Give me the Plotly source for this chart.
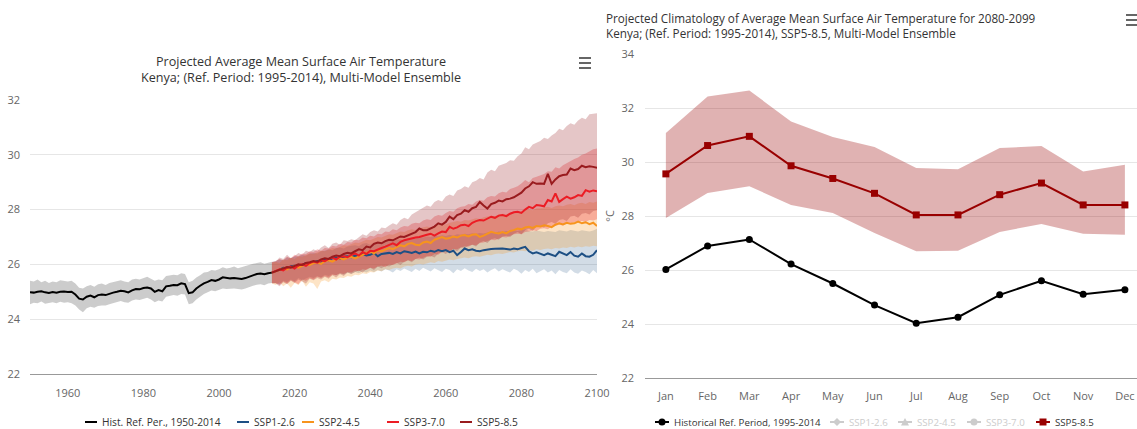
import plotly.graph_objects as go

# ---------------- Left chart data ----------------
hist_years = list(range(1950, 2015))
hist_mean = [24.98, 24.97, 25.00, 25.02, 24.98, 24.96, 24.99, 24.97, 25.00, 25.01,
             24.99, 25.00, 24.90, 24.75, 24.72, 24.82, 24.86, 24.80, 24.88, 24.90,
             24.88, 24.93, 24.97, 25.00, 25.04, 25.02, 24.98, 25.05, 25.10, 25.09,
             25.14, 25.16, 25.12, 25.00, 25.06, 25.02, 25.20, 25.22, 25.25, 25.24,
             25.31, 25.28, 24.95, 24.98, 25.12, 25.22, 25.31, 25.36, 25.43, 25.40,
             25.45, 25.53, 25.50, 25.49, 25.50, 25.48, 25.47, 25.50, 25.55, 25.60,
             25.65, 25.67, 25.64, 25.68, 25.70]
hist_upper = [25.40, 25.38, 25.45, 25.35, 25.40, 25.32, 25.38, 25.35, 25.42, 25.40,
              25.38, 25.40, 25.30, 25.15, 25.12, 25.20, 25.25, 25.18, 25.28, 25.30,
              25.25, 25.32, 25.35, 25.40, 25.42, 25.38, 25.35, 25.45, 25.48, 25.45,
              25.50, 25.55, 25.48, 25.40, 25.45, 25.42, 25.58, 25.60, 25.62, 25.60,
              25.68, 25.65, 25.35, 25.40, 25.52, 25.60, 25.70, 25.72, 25.80, 25.78,
              25.82, 25.90, 25.85, 25.88, 25.92, 25.86, 25.90, 25.95, 26.00, 26.02,
              26.05, 26.08, 26.02, 26.06, 26.10]
hist_lower = [24.55, 24.60, 24.58, 24.65, 24.56, 24.60, 24.62, 24.58, 24.64, 24.60,
              24.62, 24.58, 24.50, 24.35, 24.25, 24.40, 24.45, 24.42, 24.48, 24.50,
              24.50, 24.55, 24.58, 24.62, 24.66, 24.62, 24.60, 24.68, 24.72, 24.70,
              24.75, 24.78, 24.72, 24.62, 24.68, 24.65, 24.82, 24.85, 24.88, 24.86,
              24.92, 24.90, 24.55, 24.58, 24.72, 24.82, 24.92, 24.98, 25.05, 25.02,
              25.06, 25.12, 25.10, 25.11, 25.12, 25.10, 25.08, 25.12, 25.18, 25.22,
              25.26, 25.28, 25.24, 25.30, 25.32]

# projections start where the historical series ends (2014) and run to 2100
proj_years = list(range(2014, 2101))

ssp126_mean = [25.70,
               25.75, 25.80, 25.88, 25.85, 25.93, 25.95, 25.92, 26.00, 26.05, 26.02,
               26.08, 26.12, 26.10, 26.18, 26.15, 26.22, 26.25, 26.20, 26.28, 26.30,
               26.26, 26.32, 26.30, 26.38, 26.33, 26.35, 26.42, 26.30, 26.38, 26.40,
               26.42, 26.38, 26.45, 26.40, 26.48, 26.45, 26.42, 26.47, 26.40, 26.46,
               26.44, 26.50, 26.46, 26.52, 26.48, 26.52, 26.45, 26.50, 26.34, 26.45,
               26.58, 26.52, 26.55, 26.50, 26.48, 26.52, 26.55, 26.56, 26.57, 26.58,
               26.58, 26.56, 26.54, 26.58, 26.55, 26.60, 26.64, 26.48, 26.40, 26.44,
               26.38, 26.34, 26.40, 26.36, 26.30, 26.46, 26.40, 26.34, 26.45, 26.32,
               26.28, 26.40, 26.30, 26.28, 26.35, 26.52]
ssp126_upper = [26.08,
                26.12, 26.18, 26.15, 26.25, 26.22, 26.30, 26.28, 26.35, 26.32, 26.40,
                26.42, 26.40, 26.48, 26.50, 26.55, 26.52, 26.60, 26.62, 26.58, 26.65,
                26.68, 26.70, 26.66, 26.75, 26.78, 26.72, 26.80, 26.82, 26.78, 26.85,
                26.88, 26.85, 26.90, 26.92, 26.88, 26.95, 26.98, 26.94, 27.00, 26.98,
                27.02, 27.00, 27.05, 27.03, 27.06, 27.04, 27.08, 27.05, 27.10, 27.08,
                27.12, 27.10, 27.14, 27.12, 27.15, 27.13, 27.16, 27.18, 27.15, 27.20,
                27.18, 27.22, 27.20, 27.24, 27.22, 27.25, 27.28, 27.22, 27.20, 27.24,
                27.20, 27.18, 27.22, 27.20, 27.18, 27.25, 27.22, 27.20, 27.26, 27.22,
                27.20, 27.25, 27.22, 27.20, 27.24, 27.30]
ssp126_lower = [25.32,
                25.32, 25.28, 25.40, 25.35, 25.45, 25.38, 25.50, 25.42, 25.48, 25.55,
                25.50, 25.58, 25.52, 25.62, 25.58, 25.65, 25.60, 25.68, 25.62, 25.70,
                25.66, 25.72, 25.68, 25.75, 25.70, 25.78, 25.72, 25.80, 25.74, 25.82,
                25.78, 25.70, 25.82, 25.76, 25.85, 25.78, 25.72, 25.84, 25.76, 25.88,
                25.80, 25.74, 25.86, 25.78, 25.72, 25.84, 25.80, 25.68, 25.82, 25.76,
                25.86, 25.78, 25.72, 25.84, 25.76, 25.82, 25.70, 25.80, 25.86, 25.74,
                25.82, 25.76, 25.70, 25.84, 25.78, 25.66, 25.80, 25.72, 25.84, 25.68,
                25.76, 25.82, 25.70, 25.78, 25.64, 25.80, 25.72, 25.68, 25.82, 25.70,
                25.66, 25.78, 25.72, 25.64, 25.80, 25.68]

ssp245_mean = [25.70,
               25.75, 25.78, 25.85, 25.82, 25.90, 25.93, 25.88, 25.95, 26.00, 25.98,
               26.05, 26.08, 26.02, 26.12, 26.15, 26.10, 26.18, 26.22, 26.18, 26.25,
               26.28, 26.22, 26.30, 26.35, 26.42, 26.48, 26.40, 26.52, 26.47, 26.55,
               26.60, 26.56, 26.64, 26.70, 26.66, 26.75, 26.78, 26.72, 26.70, 26.80,
               26.83, 26.78, 26.90, 26.95, 27.00, 26.94, 26.96, 27.02, 26.98, 27.05,
               27.07, 27.02, 27.08, 27.10, 27.00, 27.05, 27.12, 27.19, 27.15, 27.13,
               27.18, 27.13, 27.22, 27.25, 27.31, 27.28, 27.35, 27.37, 27.33, 27.40,
               27.38, 27.43, 27.40, 27.36, 27.45, 27.50, 27.46, 27.52, 27.48, 27.50,
               27.56, 27.50, 27.54, 27.47, 27.52, 27.40]
ssp245_upper = [26.06,
                26.10, 26.05, 26.18, 26.15, 26.25, 26.20, 26.30, 26.28, 26.35, 26.40,
                26.38, 26.45, 26.50, 26.48, 26.55, 26.60, 26.58, 26.65, 26.70, 26.68,
                26.75, 26.80, 26.78, 26.85, 26.90, 26.88, 26.95, 27.00, 26.98, 27.05,
                27.10, 27.08, 27.15, 27.20, 27.18, 27.25, 27.28, 27.26, 27.32, 27.35,
                27.38, 27.36, 27.42, 27.45, 27.48, 27.46, 27.52, 27.55, 27.58, 27.56,
                27.62, 27.60, 27.65, 27.68, 27.66, 27.72, 27.75, 27.78, 27.76, 27.82,
                27.85, 27.83, 27.88, 27.92, 27.90, 27.95, 27.98, 28.00, 27.98, 28.05,
                28.05, 28.08, 28.10, 28.06, 28.12, 28.15, 28.12, 28.18, 28.20, 28.16,
                28.22, 28.25, 28.20, 28.28, 28.25, 28.30]
ssp245_lower = [25.30,
                25.25, 25.35, 25.20, 25.30, 25.15, 25.32, 25.25, 25.40, 25.18, 25.35,
                25.30, 25.10, 25.38, 25.42, 25.35, 25.48, 25.45, 25.52, 25.50, 25.58,
                25.55, 25.62, 25.60, 25.68, 25.65, 25.72, 25.70, 25.78, 25.75, 25.82,
                25.80, 25.85, 25.88, 25.85, 25.92, 25.95, 25.92, 26.00, 26.02, 26.00,
                26.05, 26.08, 26.05, 26.12, 26.10, 26.15, 26.18, 26.15, 26.20, 26.22,
                26.25, 26.22, 26.28, 26.30, 26.28, 26.32, 26.35, 26.33, 26.38, 26.40,
                26.38, 26.42, 26.45, 26.43, 26.48, 26.50, 26.48, 26.52, 26.50, 26.55,
                26.53, 26.56, 26.58, 26.55, 26.60, 26.58, 26.62, 26.60, 26.64, 26.62,
                26.65, 26.63, 26.66, 26.64, 26.68, 26.66]

ssp370_mean = [25.70,
               25.75, 25.82, 25.78, 25.88, 25.92, 25.85, 25.96, 26.00, 25.95, 26.05,
               26.10, 26.06, 26.15, 26.12, 26.20, 26.25, 26.18, 26.28, 26.30, 26.26,
               26.35, 26.40, 26.32, 26.45, 26.38, 26.50, 26.48, 26.55, 26.60, 26.65,
               26.72, 26.77, 26.70, 26.82, 26.88, 26.92, 26.95, 26.98, 27.00, 27.05,
               27.08, 27.12, 27.05, 27.13, 27.20, 27.18, 27.37, 27.30, 27.35, 27.43,
               27.45, 27.40, 27.52, 27.58, 27.62, 27.60, 27.68, 27.74, 27.70, 27.78,
               27.80, 27.76, 27.85, 27.90, 27.92, 27.88, 28.00, 28.10, 28.05, 28.17,
               28.15, 28.12, 28.35, 28.30, 28.59, 28.28, 28.38, 28.47, 28.40, 28.45,
               28.53, 28.50, 28.71, 28.65, 28.70, 28.67]
ssp370_upper = [26.08,
                26.12, 26.20, 26.15, 26.28, 26.22, 26.35, 26.30, 26.40, 26.38, 26.48,
                26.45, 26.55, 26.50, 26.60, 26.58, 26.68, 26.65, 26.75, 26.72, 26.82,
                26.80, 26.90, 26.88, 26.98, 26.95, 27.05, 27.02, 27.12, 27.10, 27.20,
                27.18, 27.28, 27.25, 27.35, 27.40, 27.38, 27.48, 27.52, 27.50, 27.60,
                27.65, 27.62, 27.75, 27.80, 27.78, 27.88, 27.95, 27.92, 28.05, 28.10,
                28.12, 28.20, 28.18, 28.30, 28.35, 28.32, 28.45, 28.50, 28.48, 28.60,
                28.65, 28.62, 28.75, 28.80, 28.85, 28.95, 29.08, 29.00, 29.15, 29.20,
                29.25, 29.30, 29.40, 29.38, 29.55, 29.50, 29.62, 29.70, 29.75, 29.85,
                29.90, 30.00, 30.05, 30.12, 30.20, 30.23]
ssp370_lower = [25.32,
                25.32, 25.25, 25.38, 25.30, 25.42, 25.35, 25.28, 25.45, 25.40, 25.50,
                25.45, 25.55, 25.50, 25.58, 25.52, 25.62, 25.60, 25.68, 25.65, 25.72,
                25.70, 25.78, 25.75, 25.82, 25.80, 25.88, 25.85, 25.92, 25.95, 25.90,
                26.00, 25.98, 26.05, 26.10, 26.08, 26.15, 26.12, 26.20, 26.18, 26.25,
                26.30, 26.28, 26.38, 26.35, 26.45, 26.50, 26.48, 26.56, 26.55, 26.62,
                26.66, 26.64, 26.72, 26.70, 26.78, 26.80, 26.85, 26.90, 26.88, 26.95,
                27.00, 26.98, 27.05, 27.10, 27.12, 27.10, 27.18, 27.20, 27.25, 27.22,
                27.30, 27.32, 27.28, 27.38, 27.40, 27.45, 27.42, 27.50, 27.48, 27.55,
                27.52, 27.58, 27.55, 27.62, 27.60, 27.65]

ssp585_mean = [25.70,
               25.75, 25.80, 25.85, 25.90, 25.88, 25.95, 26.00, 25.98, 26.05, 26.08,
               26.12, 26.10, 26.18, 26.22, 26.20, 26.28, 26.32, 26.30, 26.38, 26.42,
               26.40, 26.48, 26.55, 26.52, 26.65, 26.62, 26.75, 26.80, 26.77, 26.85,
               26.90, 26.88, 26.95, 27.02, 27.00, 27.07, 27.12, 27.18, 27.31, 27.25,
               27.25, 27.32, 27.38, 27.50, 27.45, 27.55, 27.74, 27.65, 27.80, 27.85,
               27.98, 27.92, 28.05, 28.10, 28.28, 28.15, 28.04, 28.20, 28.25, 28.33,
               28.30, 28.38, 28.40, 28.45, 28.55, 28.62, 28.77, 28.85, 29.00, 28.94,
               28.95, 28.94, 29.30, 28.94, 29.10, 29.22, 29.26, 29.28, 29.50, 29.44,
               29.48, 29.60, 29.55, 29.58, 29.56, 29.53]
ssp585_upper = [26.10,
                26.10, 26.25, 26.20, 26.35, 26.22, 26.30, 26.42, 26.35, 26.50, 26.45,
                26.55, 26.48, 26.62, 26.70, 26.60, 26.75, 26.80, 26.72, 26.88, 26.85,
                26.92, 26.88, 27.00, 27.10, 27.05, 27.18, 27.25, 27.20, 27.35, 27.32,
                27.42, 27.50, 27.45, 27.62, 27.70, 27.65, 27.82, 27.90, 27.98, 28.05,
                28.15, 28.10, 28.28, 28.35, 28.30, 28.48, 28.55, 28.50, 28.70, 28.75,
                28.85, 28.80, 29.00, 29.05, 29.15, 29.10, 29.35, 29.45, 29.40, 29.60,
                29.65, 29.70, 29.80, 29.78, 29.95, 30.05, 30.28, 30.20, 30.38, 30.45,
                30.50, 30.62, 30.58, 30.70, 30.80, 30.95, 30.90, 31.05, 31.15, 31.10,
                31.25, 31.35, 31.30, 31.48, 31.50, 31.52]
ssp585_lower = [25.30,
                25.30, 25.20, 25.35, 25.28, 25.40, 25.32, 25.45, 25.38, 25.30, 25.48,
                25.42, 25.50, 25.45, 25.55, 25.48, 25.60, 25.52, 25.65, 25.58, 25.70,
                25.65, 25.72, 25.78, 25.70, 25.82, 25.88, 25.80, 25.92, 25.86, 25.95,
                25.92, 26.00, 26.05, 25.98, 26.10, 26.15, 26.08, 26.20, 26.25, 26.18,
                26.28, 26.32, 26.25, 26.40, 26.45, 26.38, 26.50, 26.55, 26.48, 26.62,
                26.60, 26.68, 26.72, 26.65, 26.80, 26.85, 26.78, 26.92, 26.95, 26.90,
                27.02, 27.05, 27.00, 27.12, 27.18, 27.10, 27.25, 27.30, 27.22, 27.38,
                27.40, 27.35, 27.50, 27.55, 27.48, 27.62, 27.65, 27.58, 27.75, 27.78,
                27.70, 27.85, 27.88, 27.82, 27.95, 27.98]

left_ticks = [1960, 1980, 2000, 2020, 2040, 2060, 2080, 2100]

# ---------------- Right chart data ----------------
months = ["Jan", "Feb", "Mar", "Apr", "May", "Jun", "Jul", "Aug", "Sep", "Oct", "Nov", "Dec"]
clim_hist = [26.02, 26.89, 27.13, 26.22, 25.50, 24.70, 24.03, 24.25, 25.08, 25.60, 25.10, 25.27]
clim_585 = [29.56, 30.61, 30.95, 29.86, 29.39, 28.84, 28.04, 28.04, 28.79, 29.22, 28.41, 28.41]
clim_585_upper = [31.07, 32.43, 32.65, 31.50, 30.93, 30.56, 29.78, 29.73, 30.52, 30.59, 29.65, 29.90]
clim_585_lower = [27.93, 28.85, 29.10, 28.41, 28.11, 27.37, 26.69, 26.71, 27.41, 27.70, 27.34, 27.31]

# ---------------- Styling ----------------
W, H = 1137, 429
FONT = "Open Sans, Lato, sans-serif"
C_HIST = "#000000"
C_126 = "#1d4f84"
C_245 = "#f7941d"
C_370 = "#ec1c24"
C_585 = "#991b1e"
C_585R = "#990000"
C_OFF = "#cccccc"
LEG_FONT_L = 10.2
LEG_FONT_R = 9.7

fig = go.Figure()


def band(x, lo, hi, color, xa="x", ya="y"):
    fig.add_trace(go.Scatter(x=x, y=lo, mode="lines", line=dict(width=0), showlegend=False,
                             hoverinfo="skip", xaxis=xa, yaxis=ya))
    fig.add_trace(go.Scatter(x=x, y=hi, mode="lines", line=dict(width=0), fill="tonexty",
                             fillcolor=color, showlegend=False, hoverinfo="skip",
                             xaxis=xa, yaxis=ya))


band(hist_years, hist_lower, hist_upper, "rgba(0,0,0,0.2)")
band(proj_years, ssp126_lower, ssp126_upper, "rgba(29,79,132,0.2)")
band(proj_years, ssp245_lower, ssp245_upper, "rgba(247,148,29,0.25)")
band(proj_years, ssp370_lower, ssp370_upper, "rgba(236,28,36,0.28)")
band(proj_years, ssp585_lower, ssp585_upper, "rgba(153,27,30,0.25)")

left_series = [("Hist. Ref. Per., 1950-2014", hist_years, hist_mean, C_HIST),
               ("SSP1-2.6", proj_years, ssp126_mean, C_126),
               ("SSP2-4.5", proj_years, ssp245_mean, C_245),
               ("SSP3-7.0", proj_years, ssp370_mean, C_370),
               ("SSP5-8.5", proj_years, ssp585_mean, C_585)]
for name, x, y, c in left_series:
    fig.add_trace(go.Scatter(x=x, y=y, mode="lines", name=name, line=dict(color=c, width=2),
                             showlegend=False))

# Right chart
band(months, clim_585_lower, clim_585_upper, "rgba(153,0,0,0.3)", "x2", "y2")
fig.add_trace(go.Scatter(x=months, y=clim_hist, mode="lines+markers",
                         name="Historical Ref. Period, 1995-2014",
                         line=dict(color="#000000", width=2),
                         marker=dict(symbol="circle", size=7, color="#000000"),
                         xaxis="x2", yaxis="y2", showlegend=False))
fig.add_trace(go.Scatter(x=months, y=clim_585, mode="lines+markers", name="SSP5-8.5",
                         line=dict(color=C_585R, width=2),
                         marker=dict(symbol="square", size=7, color=C_585R),
                         xaxis="x2", yaxis="y2", showlegend=False))

tickfont = dict(family=FONT, size=11, color="#666666")

annotations = [
    dict(text="Projected Average Mean Surface Air Temperature<br>Kenya; (Ref. Period: 1995-2014), Multi-Model Ensemble",
         x=301 / W, y=1 - 69 / H, xref="paper", yref="paper", xanchor="center",
         yanchor="middle", showarrow=False, align="center",
         font=dict(family=FONT, size=12.6, color="#333333")),
    dict(text="Projected Climatology of Average Mean Surface Air Temperature for 2080-2099<br>Kenya; (Ref. Period: 1995-2014), SSP5-8.5, Multi-Model Ensemble",
         x=604 / W, y=1 - 25 / H, xref="paper", yref="paper", xanchor="left",
         yanchor="middle", showarrow=False, align="left",
         font=dict(family=FONT, size=11.7, color="#333333")),
]
shapes = []


def px(x):
    return x / W


def py(y):
    return 1 - y / H


# ---- legends (drawn as text + small symbols) ----
LEG_Y = 422
left_leg_pos = [91, 243, 308, 393, 466]
for (name, _, _, c), cx in zip(left_series, left_leg_pos):
    shapes.append(dict(type="line", xref="paper", yref="paper", x0=px(cx - 6), x1=px(cx + 6),
                       y0=py(LEG_Y), y1=py(LEG_Y), line=dict(color=c, width=2)))
    annotations.append(dict(text=name, x=px(cx + 9), y=py(LEG_Y), xref="paper", yref="paper",
                            xanchor="left", yanchor="middle", showarrow=False,
                            font=dict(family=FONT, size=LEG_FONT_L, color="#333333")))

right_legend = [("Historical Ref. Period, 1995-2014", "#000000", "circle", 662, "#333333"),
                ("SSP1-2.6", C_OFF, "diamond", 837, C_OFF),
                ("SSP2-4.5", C_OFF, "triangle", 905, C_OFF),
                ("SSP3-7.0", C_OFF, "circle", 974, C_OFF),
                ("SSP5-8.5", C_585R, "square", 1043, "#333333")]
for name, c, sym, cx, tc in right_legend:
    shapes.append(dict(type="line", xref="paper", yref="paper", x0=px(cx - 7), x1=px(cx + 7),
                       y0=py(LEG_Y), y1=py(LEG_Y), line=dict(color=c, width=2)))
    r = 3.5
    if sym == "circle":
        shapes.append(dict(type="circle", xref="paper", yref="paper", x0=px(cx - r), x1=px(cx + r),
                           y0=py(LEG_Y + r), y1=py(LEG_Y - r), fillcolor=c, line=dict(width=0)))
    elif sym == "square":
        shapes.append(dict(type="rect", xref="paper", yref="paper", x0=px(cx - r), x1=px(cx + r),
                           y0=py(LEG_Y + r), y1=py(LEG_Y - r), fillcolor=c, line=dict(width=0)))
    elif sym == "diamond":
        path = "M {} {} L {} {} L {} {} L {} {} Z".format(
            px(cx), py(LEG_Y - 4), px(cx + 4), py(LEG_Y), px(cx), py(LEG_Y + 4), px(cx - 4), py(LEG_Y))
        shapes.append(dict(type="path", xref="paper", yref="paper", path=path, fillcolor=c,
                           line=dict(width=0)))
    else:
        path = "M {} {} L {} {} L {} {} Z".format(
            px(cx), py(LEG_Y - 4), px(cx + 4), py(LEG_Y + 3.5), px(cx - 4), py(LEG_Y + 3.5))
        shapes.append(dict(type="path", xref="paper", yref="paper", path=path, fillcolor=c,
                           line=dict(width=0)))
    annotations.append(dict(text=name, x=px(cx + 10), y=py(LEG_Y), xref="paper", yref="paper",
                            xanchor="left", yanchor="middle", showarrow=False,
                            font=dict(family=FONT, size=LEG_FONT_R, color=tc)))

# hamburger menu icons
for cx0, cx1, cy in [(579, 591, 63), (1126, 1137, 20)]:
    for dy in (-5, 0, 5):
        shapes.append(dict(type="line", xref="paper", yref="paper",
                           x0=px(cx0), x1=px(cx1), y0=py(cy + dy), y1=py(cy + dy),
                           line=dict(color="#666666", width=2)))

fig.update_layout(
    width=W, height=H,
    margin=dict(l=0, r=0, t=0, b=0, autoexpand=False),
    paper_bgcolor="white", plot_bgcolor="white",
    font=dict(family=FONT, color="#333333"),
    hovermode=False,
    showlegend=False,
    xaxis=dict(domain=[30 / W, 597 / W], range=[1950, 2100], tickvals=left_ticks,
               showgrid=False, zeroline=False, showline=True, linecolor="#999999",
               linewidth=1, ticks="", tickfont=tickfont, ticklabelstandoff=9,
               automargin=False),
    yaxis=dict(domain=[1 - 374 / H, 1 - 100 / H], range=[22, 32], dtick=2,
               showgrid=True, gridcolor="#e6e6e6", zeroline=False, showline=False,
               ticks="", tickfont=tickfont, ticklabelstandoff=9, automargin=False),
    xaxis2=dict(domain=[645 / W, 1.0], range=[-0.5, 11.29], type="category",
                showgrid=False, zeroline=False, showline=True, linecolor="#999999",
                linewidth=1, ticks="", tickfont=tickfont, ticklabelstandoff=8,
                anchor="y2", automargin=False),
    yaxis2=dict(domain=[1 - 378 / H, 1 - 54 / H], range=[22, 34], dtick=2,
                showgrid=True, gridcolor="#e6e6e6", zeroline=False, showline=False,
                ticks="", tickfont=tickfont, ticklabelstandoff=10, anchor="x2",
                automargin=False,
                title=dict(text="°C", font=dict(family=FONT, size=11, color="#666666"),
                           standoff=4)),
    annotations=annotations,
    shapes=shapes,
)

fig.write_html("out.html", config={"displayModeBar": False, "staticPlot": True},
               post_script="document.body.style.margin='0';")
